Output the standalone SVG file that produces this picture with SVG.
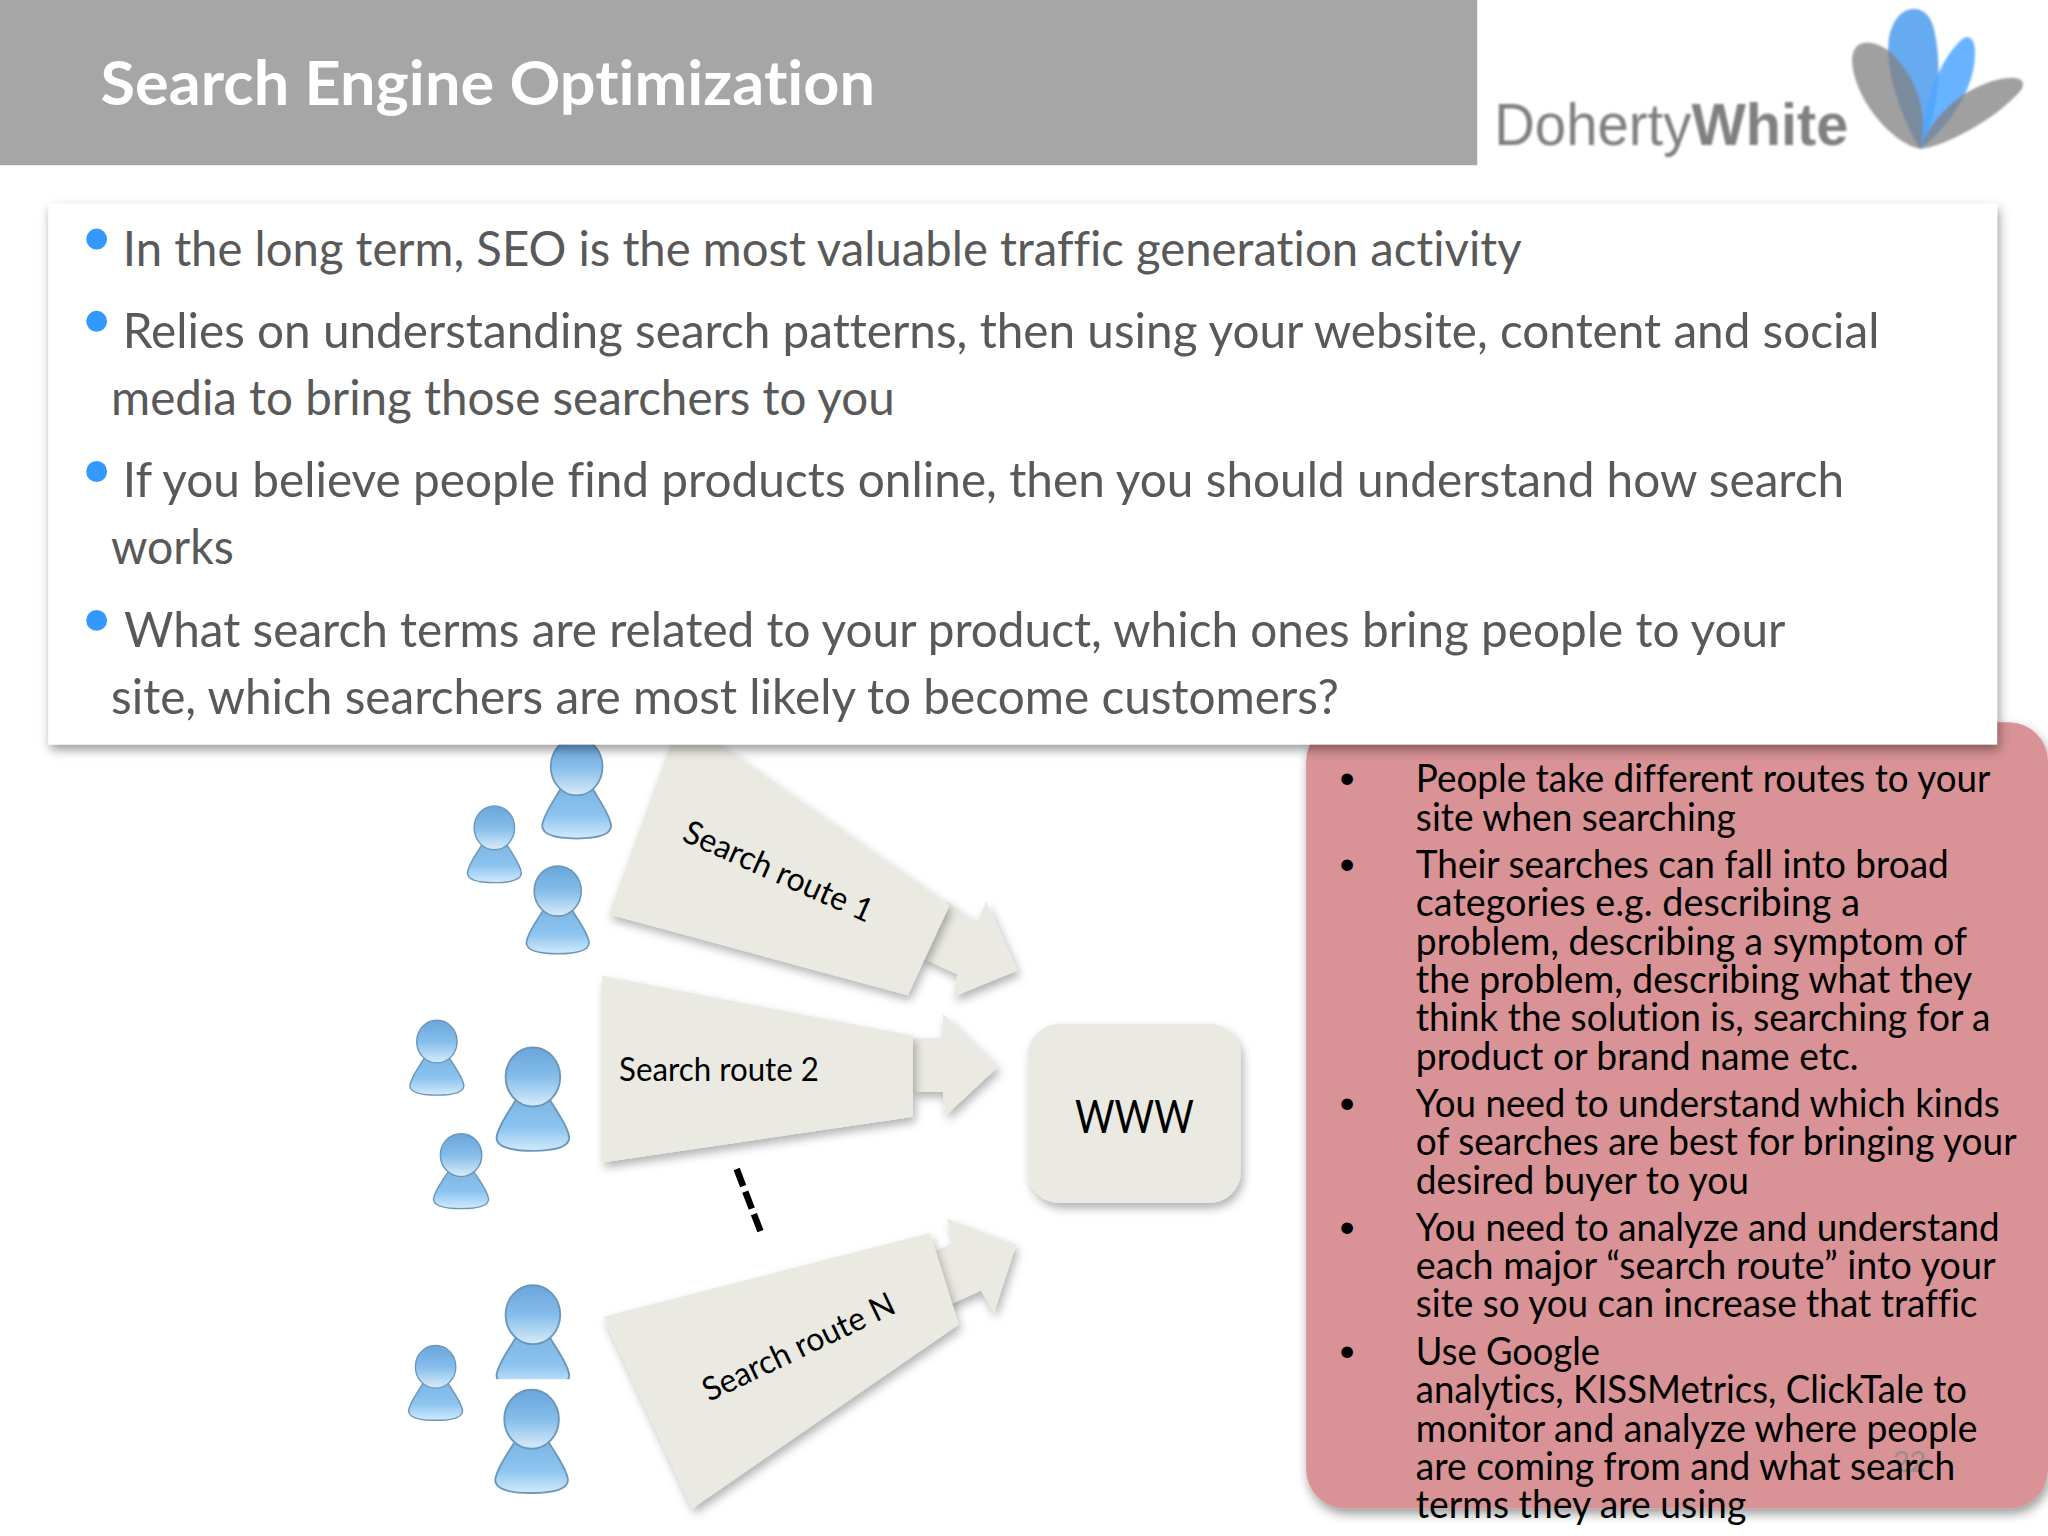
<svg xmlns="http://www.w3.org/2000/svg" xmlns:xlink="http://www.w3.org/1999/xlink" width="2048" height="1536" viewBox="0 0 2048 1536">
<style>
text{font-family:"Lato","Open Sans","Liberation Sans",sans-serif;font-variant-ligatures:none}
.b{font-size:37px;fill:#595959}
.r{font-size:29.5px;fill:#000}
.k{font-size:24px;fill:#000}
.l{font-size:25px;fill:#000}
.s{fill:#eaeae2;filter:url(#sh)}
.d{fill:#3399ff}
</style>
<defs>
<filter id="sh" x="-20%" y="-20%" width="140%" height="140%"><feDropShadow dx="2" dy="4" stdDeviation="3.5" flood-color="#000" flood-opacity=".3"/></filter>
<filter id="sb" x="-5%" y="-5%" width="110%" height="110%"><feDropShadow dx="1.500" dy="4" stdDeviation="4" flood-color="#000" flood-opacity=".4"/></filter>
<filter id="soft" x="-5%" y="-5%" width="110%" height="110%"><feGaussianBlur stdDeviation=".7"/></filter>
<linearGradient id="hg" x1="0" y1="0" x2="0" y2="1"><stop offset="0" stop-color="#6aa6dc"/><stop offset=".5" stop-color="#85bdea"/><stop offset="1" stop-color="#d8ecfa"/></linearGradient>
<linearGradient id="bg" x1="0" y1="0" x2="0" y2="1"><stop offset="0" stop-color="#7db5e4"/><stop offset=".55" stop-color="#8cc4f0"/><stop offset="1" stop-color="#d2eafb"/></linearGradient>
<g id="person" stroke="#6a97b9" stroke-width="2.5">
<path fill="url(#bg)" d="M28 70C22 82 4 105 2 122C2 136 25 140 50 140C75 140 98 136 98 122C96 105 78 82 72 70C62 76 38 76 28 70Z"/>
<ellipse cx="50" cy="40" rx="36" ry="40" fill="url(#hg)"/>
</g>
</defs>
<rect width="2048" height="1536" fill="#fff"/>
<g transform="scale(1.30612)">
<g id="title">
<rect width="1131" height="126.500" fill="#a6a6a6"/>
<text x="77" y="80.500" font-size="47" font-weight="700" fill="#fff" textLength="593" lengthAdjust="spacingAndGlyphs">Search Engine Optimization</text>
</g>
<g id="logo" filter="url(#soft)">
<path fill="#66aaf0" d="M1470 114C1450 80 1441 40 1448 22C1455 2 1475 2 1480 20C1487 45 1486 85 1470 114Z"/>
<path fill="#4da6ff" opacity=".85" d="M1470 114C1472 85 1482 50 1500 32C1507 24 1513 30 1512 42C1512 65 1495 95 1470 114Z"/>
<path fill="#808080" opacity=".75" d="M1470 114C1445 108 1418 72 1418 45C1419 30 1432 30 1445 38C1465 55 1478 85 1470 114Z"/>
<path fill="#808080" opacity=".75" d="M1470 114C1490 112 1530 90 1548 68C1552 58 1540 58 1525 62C1500 70 1478 90 1470 114Z"/>
<text y="111" font-size="46" fill="#808080" style="font-family:'Liberation Sans',sans-serif"><tspan x="1144" textLength="151" lengthAdjust="spacingAndGlyphs">Doherty</tspan><tspan x="1295" textLength="120" lengthAdjust="spacingAndGlyphs" font-weight="700">White</tspan></text>
</g>
<g id="notes">
<rect x="1000" y="553" width="568" height="602" rx="30" fill="#d99295" filter="url(#sb)"/>
<text class="k" x="1024.500" y="603">•</text><text class="k" x="1024.500" y="669">•</text><text class="k" x="1024.500" y="852">•</text><text class="k" x="1024.500" y="947">•</text><text class="k" x="1024.500" y="1042">•</text>
<text x="1462" y="1127" text-anchor="middle" font-size="22" fill="#a08a8a">22</text>
<text class="r" x="1084" y="606" textLength="440" lengthAdjust="spacingAndGlyphs">People take different routes to your</text>
<text class="r" x="1084" y="636" textLength="245" lengthAdjust="spacingAndGlyphs">site when searching</text>
<text class="r" x="1084" y="672" textLength="408" lengthAdjust="spacingAndGlyphs">Their searches can fall into broad</text>
<text class="r" x="1084" y="701" textLength="340" lengthAdjust="spacingAndGlyphs">categories e.g. describing a</text>
<text class="r" x="1084" y="731" textLength="422" lengthAdjust="spacingAndGlyphs">problem, describing a symptom of</text>
<text class="r" x="1084" y="760" textLength="426" lengthAdjust="spacingAndGlyphs">the problem, describing what they</text>
<text class="r" x="1084" y="789" textLength="440" lengthAdjust="spacingAndGlyphs">think the solution is, searching for a</text>
<text class="r" x="1084" y="819" textLength="339" lengthAdjust="spacingAndGlyphs">product or brand name etc.</text>
<text class="r" x="1084" y="855" textLength="447" lengthAdjust="spacingAndGlyphs">You need to understand which kinds</text>
<text class="r" x="1084" y="884" textLength="460" lengthAdjust="spacingAndGlyphs">of searches are best for bringing your</text>
<text class="r" x="1084" y="914" textLength="255" lengthAdjust="spacingAndGlyphs">desired buyer to you</text>
<text class="r" x="1084" y="950" textLength="447" lengthAdjust="spacingAndGlyphs">You need to analyze and understand</text>
<text class="r" x="1084" y="979" textLength="444" lengthAdjust="spacingAndGlyphs">each major “search route” into your</text>
<text class="r" x="1084" y="1008" textLength="430" lengthAdjust="spacingAndGlyphs">site so you can increase that traffic</text>
<text class="r" x="1084" y="1045" textLength="141" lengthAdjust="spacingAndGlyphs">Use Google</text>
<text class="r" x="1084" y="1074" textLength="422" lengthAdjust="spacingAndGlyphs">analytics, KISSMetrics, ClickTale to</text>
<text class="r" x="1084" y="1104" textLength="430" lengthAdjust="spacingAndGlyphs">monitor and analyze where people</text>
<text class="r" x="1084" y="1133" textLength="413" lengthAdjust="spacingAndGlyphs">are coming from and what search</text>
<text class="r" x="1084" y="1162" textLength="253" lengthAdjust="spacingAndGlyphs">terms they are using</text>
</g>
<g id="connectors">
<polygon class="s" points="755,690 779,743 730,763 733,746 705,733 725,690 748,707"/>
<polygon class="s" points="699,795 722,795 722,776 764,817 724,854 722,836 699,836"/>
<polygon class="s" points="725,933 778,953 761,1005 751,988 725,1000 712,960 730,951"/>
<line x1="564" y1="895" x2="583.500" y2="946" stroke="#000" stroke-width="5" stroke-dasharray="14 4.500"/>
</g>
<g id="route1">
<polygon class="s" points="466,700 521,549 727,693 695,762"/>
<text class="l" transform="translate(592.500,675) rotate(24)" text-anchor="middle" textLength="156" lengthAdjust="spacingAndGlyphs">Search route 1</text>
</g>
<g id="route2">
<polygon class="s" points="461,747 699,793 699,855 461,890"/>
<text class="l" x="474" y="828" textLength="153" lengthAdjust="spacingAndGlyphs">Search route 2</text>
</g>
<g id="routeN">
<polygon class="s" points="462,1008 712,944 734,1014 530,1155"/>
<text class="l" transform="translate(615,1039) rotate(-25.500)" text-anchor="middle" textLength="160" lengthAdjust="spacingAndGlyphs">Search route N</text>
</g>
<g id="www">
<rect class="s" x="787" y="784" width="163" height="137" rx="24"/>
<text x="868.500" y="867.500" text-anchor="middle" font-size="36" textLength="91" lengthAdjust="spacingAndGlyphs">WWW</text>
</g>
<g id="people">
<use xlink:href="#person" href="#person" transform="translate(414,565) scale(.55,.55)"/>
<use xlink:href="#person" href="#person" transform="translate(357,617) scale(.43,.42)"/>
<use xlink:href="#person" href="#person" transform="translate(402,663) scale(.5,.48)"/>
<use xlink:href="#person" href="#person" transform="translate(313,781) scale(.43,.41)"/>
<use xlink:href="#person" href="#person" transform="translate(379,802) scale(.58,.565)"/>
<use xlink:href="#person" href="#person" transform="translate(331,868) scale(.44,.41)"/>
<use xlink:href="#person" href="#person" transform="translate(379,984) scale(.58,.565)"/>
<rect x="370" y="1056" width="75" height="8" fill="#fff"/>
<use xlink:href="#person" href="#person" transform="translate(312,1030) scale(.43,.41)"/>
<use xlink:href="#person" href="#person" transform="translate(378,1064) scale(.58,.565)"/>
</g>
<g id="content">
<rect x="37" y="156" width="1492" height="414" fill="#fff" filter="url(#sb)"/>
<circle class="d" cx="74" cy="183" r="8"/><circle class="d" cx="74" cy="246" r="8"/><circle class="d" cx="74" cy="361" r="8"/><circle class="d" cx="74" cy="475" r="8"/>
<text class="b" x="94" y="204" textLength="1071" lengthAdjust="spacingAndGlyphs">In the long term, SEO is the most valuable traffic generation activity</text>
<text class="b" x="94" y="266.500" textLength="1345" lengthAdjust="spacingAndGlyphs">Relies on understanding search patterns, then using your website, content and social</text>
<text class="b" x="85" y="318" textLength="600" lengthAdjust="spacingAndGlyphs">media to bring those searchers to you</text>
<text class="b" x="94" y="380.500" textLength="1318" lengthAdjust="spacingAndGlyphs">If you believe people find products online, then you should understand how search</text>
<text class="b" x="85" y="432" textLength="94" lengthAdjust="spacingAndGlyphs">works</text>
<text class="b" x="95" y="495" textLength="1272" lengthAdjust="spacingAndGlyphs">What search terms are related to your product, which ones bring people to your</text>
<text class="b" x="85" y="547" textLength="940" lengthAdjust="spacingAndGlyphs">site, which searchers are most likely to become customers?</text>
</g>
</g>
</svg>
